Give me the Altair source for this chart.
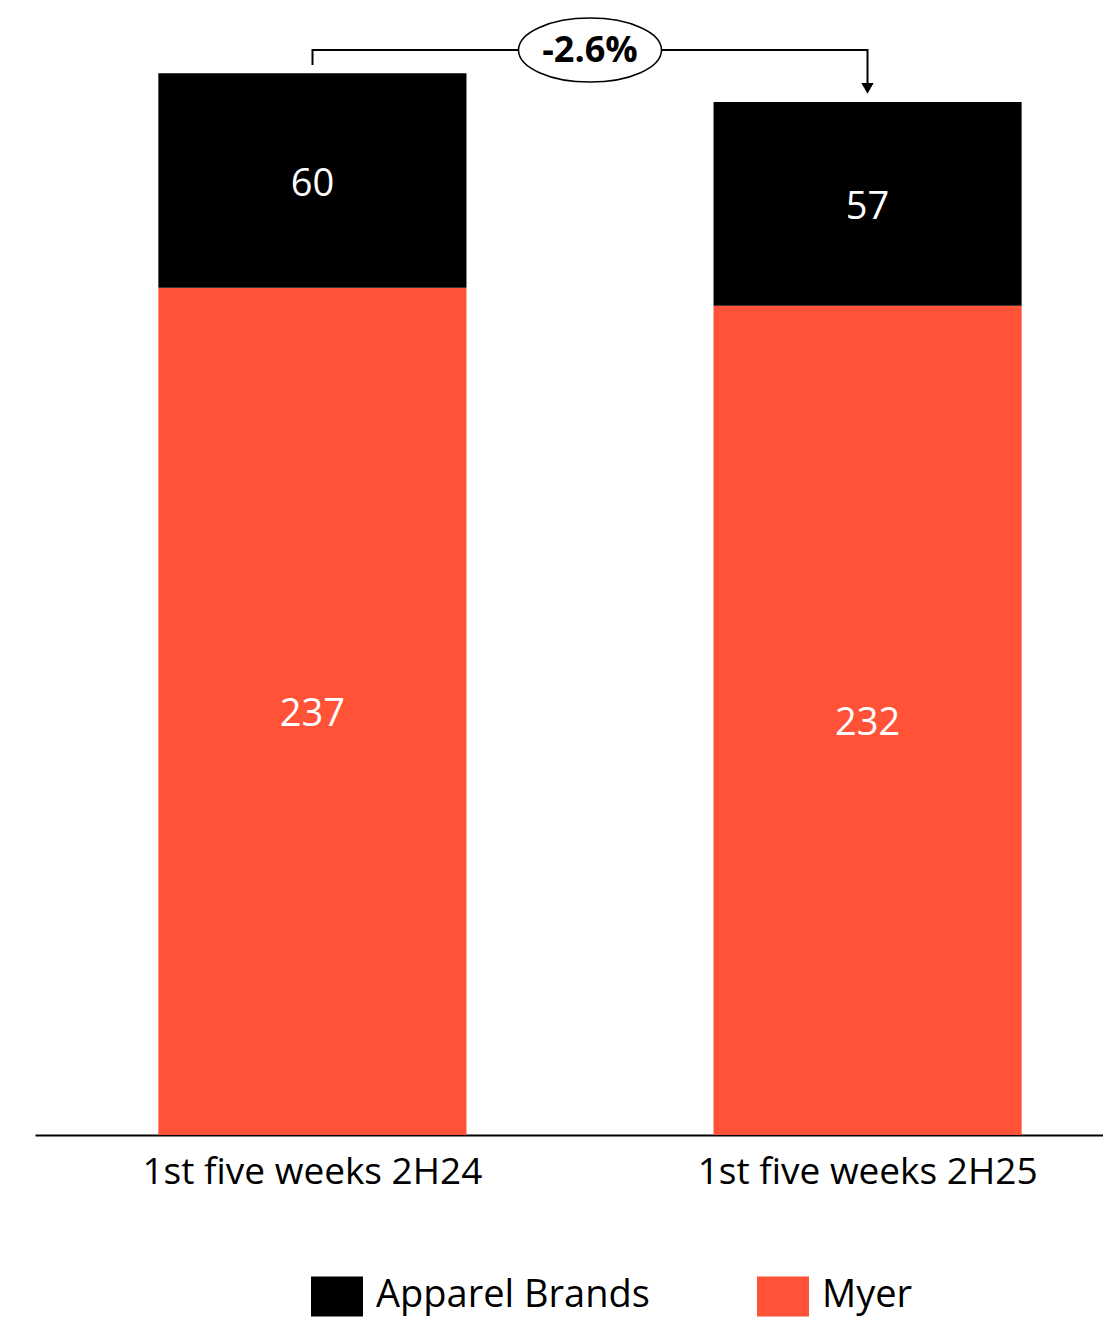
import altair as alt
import pandas as pd

# ---- data ----
periods = ["1st five weeks 2H24", "1st five weeks 2H25"]
segments = ["Apparel Brands", "Myer"]
apparel_values = [60, 57]
myer_values = [237, 232]
seg_colors = ["#000000", "#FF5237"]
change_label = "-2.6%"

# annotation bracket (bar index, value level)
bracket_pos = [0, 0, 1, 1]
bracket_level = [299.3, 303.5, 303.5, 293.8]
arrow_pos = [1]
arrow_level = [292.8]
badge_pos = [0.5]
badge_level = [303.5]

FONT = "Open Sans"

rows = []
for i, p in enumerate(periods):
    rows.append({"period": p, "segment": "Myer", "value": myer_values[i], "order": 0})
    rows.append({"period": p, "segment": "Apparel Brands", "value": apparel_values[i], "order": 1})
df = pd.DataFrame(rows)

bracket_df = pd.DataFrame({"pos": bracket_pos, "level": bracket_level, "step": list(range(len(bracket_pos)))})
arrow_df = pd.DataFrame({"pos": arrow_pos, "level": arrow_level})
badge_df = pd.DataFrame({"pos": badge_pos, "level": badge_level, "label": [change_label]})

x_scale = alt.Scale(range=[0, 1110], paddingInner=0.445, paddingOuter=0.2222)
y_scale = alt.Scale(domain=[0, 315], nice=False, zero=True)

base = alt.Chart(df).transform_stack(
    stack="value", groupby=["period"], as_=["y0", "y1"],
    sort=[alt.SortField("order", order="ascending")]
).transform_calculate(mid="(datum.y0 + datum.y1) / 2")

bars = base.mark_bar().encode(
    x=alt.X("period:N", sort=periods, scale=x_scale,
            axis=alt.Axis(title=None, labelAngle=0, labelFont=FONT, labelFontSize=37,
                          labelColor="black", ticks=False, domainColor="black",
                          domainWidth=2, labelPadding=19, labelLimit=600, grid=False)),
    y=alt.Y("y0:Q", scale=y_scale, axis=None),
    y2="y1:Q",
    color=alt.Color("segment:N", scale=alt.Scale(domain=segments, range=seg_colors),
                    legend=alt.Legend(title=None, orient="none", legendX=276, legendY=1261,
                                      direction="horizontal",
                                      symbolType="M-1,-0.77L1,-0.77L1,0.77L-1,0.77Z",
                                      symbolSize=2704, symbolStrokeWidth=0, symbolOpacity=1,
                                      labelFont=FONT, labelFontSize=38, labelColor="black",
                                      labelOffset=13, columnPadding=107, padding=0,
                                      labelLimit=600)),
)

labels = base.mark_text(color="white", font=FONT, fontSize=38, baseline="middle", dy=4).encode(
    x=alt.X("period:N", sort=periods),
    y=alt.Y("mid:Q", scale=y_scale, axis=None),
    text="value:Q",
)

ann_x = alt.X("pos:Q", scale=alt.Scale(domain=[-0.5, 1.5], range=[0, 1110], nice=False, zero=False), axis=None)

line = alt.Chart(bracket_df).mark_line(color="black", strokeWidth=2).encode(
    x=ann_x, y=alt.Y("level:Q", scale=y_scale, axis=None), order="step:Q"
)
arrow = alt.Chart(arrow_df).mark_point(shape="triangle-down", filled=True, color="black",
                                       size=150, opacity=1).encode(
    x=ann_x, y=alt.Y("level:Q", scale=y_scale, axis=None)
)
ELLIPSE = "M-1,0A1,0.4476,0,1,1,1,0A1,0.4476,0,1,1,-1,0Z"
badge = alt.Chart(badge_df).mark_point(shape=ELLIPSE, size=20449, filled=True, fill="white",
                                       stroke="black", strokeWidth=1.5, opacity=1).encode(
    x=ann_x, y=alt.Y("level:Q", scale=y_scale, axis=None)
)
badge_text = alt.Chart(badge_df).mark_text(font=FONT, fontSize=36, fontWeight="bold",
                                           color="black", baseline="middle", dy=1).encode(
    x=ann_x, y=alt.Y("level:Q", scale=y_scale, axis=None), text="label:N"
)

chart = alt.layer(
    alt.layer(bars, labels),
    alt.layer(line, arrow, badge, badge_text),
).resolve_scale(x="independent").properties(
    width=1068, height=1126, autosize=alt.AutoSizeParams(type="none"),
    padding={"left": 27, "top": 1, "right": 0, "bottom": 182}
).configure_view(stroke=None)

chart.save("out.html", embed_options={"renderer": "svg", "actions": False})
